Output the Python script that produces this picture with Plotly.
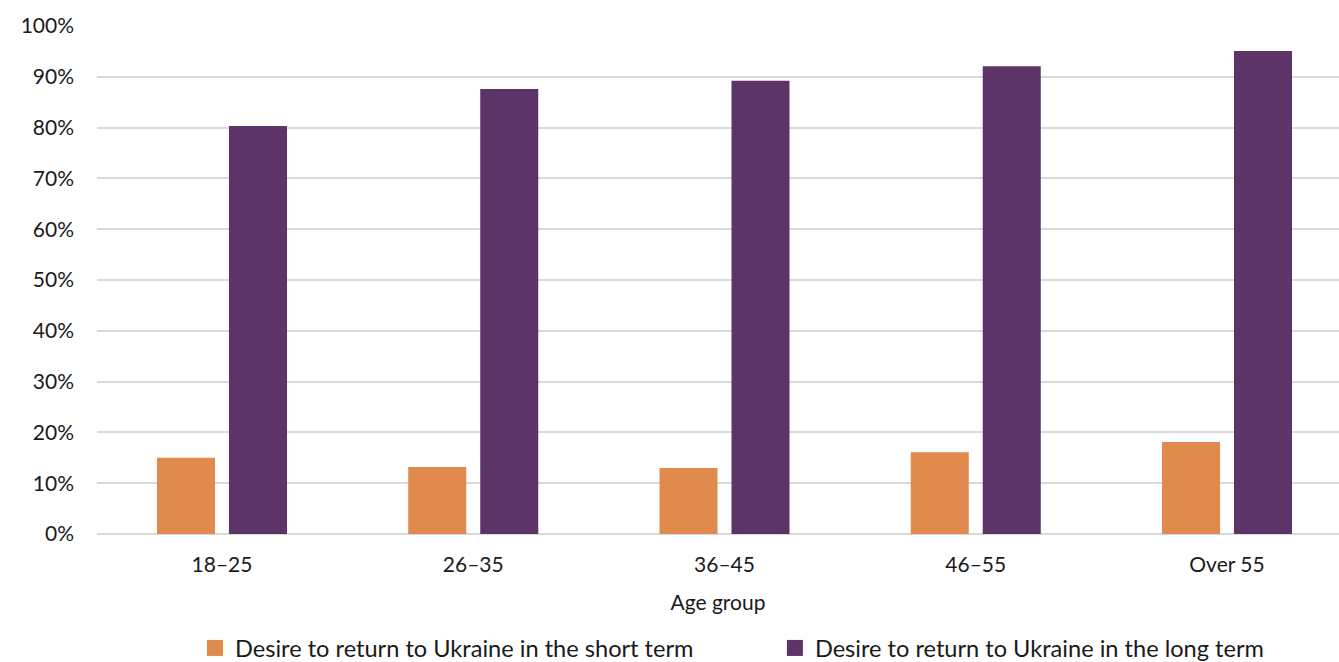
import plotly.graph_objects as go

categories = ["18–25", "26–35", "36–45", "46–55", "Over 55"]
short_term = [0.15, 0.132, 0.130, 0.161, 0.181]
long_term = [0.803, 0.876, 0.892, 0.921, 0.951]
series_names = ["Desire to return to Ukraine in the short term",
                "Desire to return to Ukraine in the long term"]
colors = ["#E18A4E", "#5C3468"]
tick_vals = [i / 10 for i in range(11)]

FONT = "Lato, 'Open Sans', sans-serif"

fig = go.Figure()
for vals, name, col in zip([short_term, long_term], series_names, colors):
    fig.add_trace(go.Bar(x=categories, y=vals, name=name, showlegend=False,
                         marker=dict(color=col, line=dict(width=0))))
# legend entries with larger square swatches, one legend box per series
for name, col, leg in zip(series_names, colors, ["legend", "legend2"]):
    fig.add_trace(go.Scatter(x=[None], y=[None], mode="markers", name=name,
                             marker=dict(symbol="square", size=16, color=col),
                             showlegend=True, hoverinfo="skip", legend=leg))

legend_common = dict(orientation="h", xanchor="left", y=0.021, yanchor="middle",
                     yref="container", font=dict(size=23.6), itemwidth=30,
                     bgcolor="rgba(0,0,0,0)")

fig.update_layout(
    width=1339, height=662,
    margin=dict(l=97, r=0, t=26, b=128),
    paper_bgcolor="white", plot_bgcolor="white",
    font=dict(family=FONT, color="#1a1a1a", size=21),
    barmode="group", bargap=0.427, bargroupgap=0.194,
    showlegend=True,
    legend=dict(x=0.0789, **legend_common),
    legend2=dict(x=0.5458, **legend_common),
    xaxis=dict(showline=False, ticks="", tickfont=dict(size=21),
               range=[-0.4975, 4.4457],
               title=dict(text="Age group", font=dict(size=21), standoff=20),
               ticklabelstandoff=16, automargin=False),
    yaxis=dict(range=[0, 1], tickvals=tick_vals, tickformat=".0%",
               showgrid=True, gridcolor="#d9d9d9", gridwidth=1.5,
               zeroline=True, zerolinecolor="#d9d9d9", zerolinewidth=1.5,
               showline=False, ticks="", tickfont=dict(size=21),
               ticklabelstandoff=22, automargin=False),
)

fig.write_html("out.html")
